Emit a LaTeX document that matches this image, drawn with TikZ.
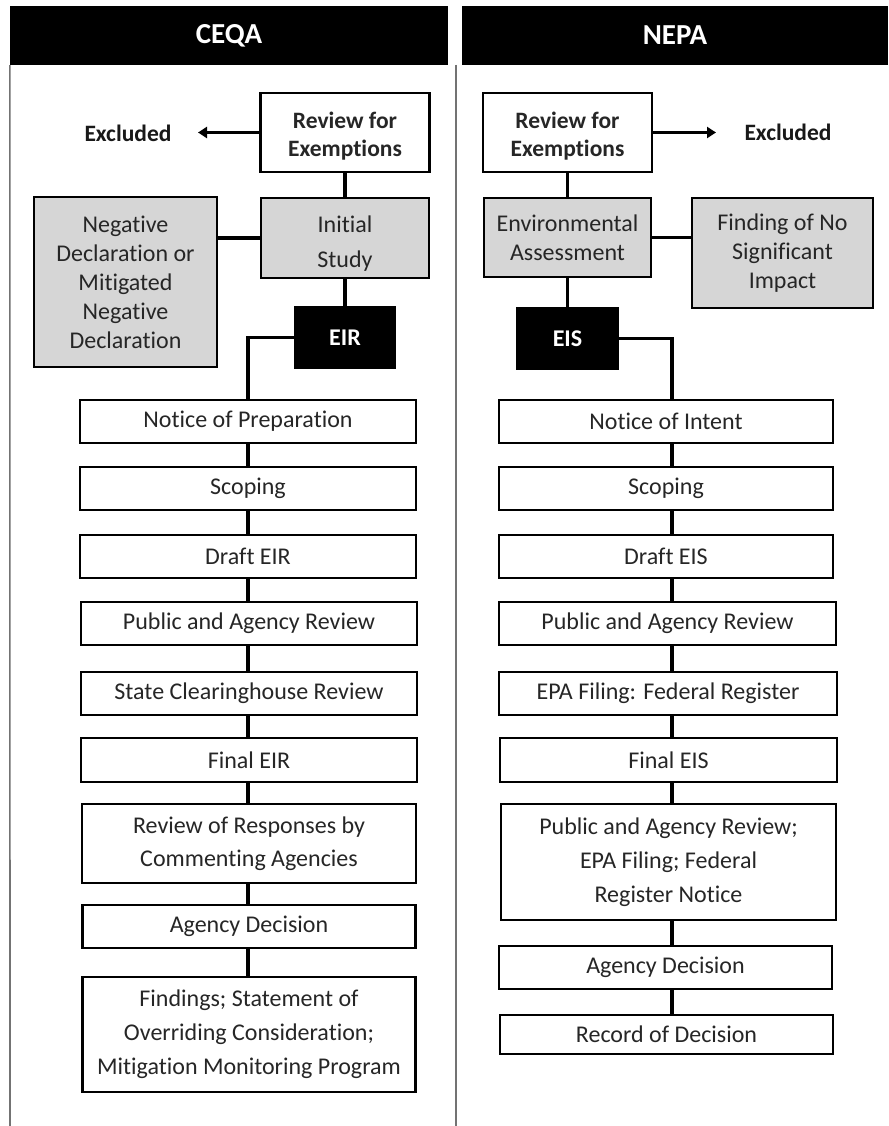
\documentclass[tikz,border=0pt]{standalone}
\usepackage{fontspec}
\setmainfont{Carlito}[Ligatures=NoCommon]
\usetikzlibrary{arrows.meta}
\begin{document}
\begin{tikzpicture}[x=1pt,y=-1pt,
  box/.style={draw=black,line width=2.2pt,fill=white,inner sep=0pt,align=center,
              font=\fontsize{24}{29}\selectfont,text=black!85},
  gbox/.style={box,fill=black!16},
  bbox/.style={box,fill=black,text=white,font=\fontsize{24}{29}\selectfont\bfseries},
  conn/.style={line width=3.6pt},
  arr/.style={line width=3pt,-{Triangle[length=9pt,width=11pt]}},
  lbl/.style={font=\fontsize{23.5}{28}\selectfont\bfseries,align=center,text=black!90,inner sep=0pt},
  hdr/.style={fill=black,text=white,font=\fontsize{29}{34}\selectfont\bfseries,inner sep=0pt},
  rule/.style={draw=black!55,line width=1.6pt}]
\fill[white] (0,0) rectangle (888,1126);
\useasboundingbox (0,0) rectangle (888,1126);

% headers
\node[hdr,minimum width=438pt,minimum height=59pt] (hc) at (229,35.5) {CEQA};
\node[hdr,minimum width=426pt,minimum height=59pt] (hn) at (675,35.5) {NEPA};
\coordinate (lb) at (10,1126);
\coordinate (dt) at (456,65);
\coordinate (db) at (456,1126);
\draw[rule] (hc.south west) -- (lb);
\draw[rule] (dt) -- (db);

% ---------------- CEQA ----------------
\node[box,minimum width=169pt,minimum height=79pt,font=\fontsize{23.5}{28}\selectfont\bfseries] (rev1) at (345,132.5) {\rule{0pt}{23pt}Review for\\Exemptions};
\node[lbl] (ex1) at (128,133) {Excluded};
\coordinate (ex1a) at (198,132.5);
\node[gbox,minimum width=168pt,minimum height=80pt,font=\fontsize{24}{35}\selectfont] (init) at (345,238) {\rule{0pt}{27pt}Initial\\Study};
\node[gbox,minimum width=183pt,minimum height=170pt] (neg) at (125.5,282) {Negative\\Declaration or\\Mitigated\\Negative\\Declaration};
\node[bbox,minimum width=100pt,minimum height=61pt] (eir) at (345,337.5) {EIR};

\node[box,minimum width=336pt,minimum height=43pt] (c1) at (248,421.5) {Notice of Preparation};
\node[box,minimum width=336pt,minimum height=43pt] (c2) at (248,488.5) {Scoping};
\node[box,minimum width=336pt,minimum height=43pt] (c3) at (248,556.5) {Draft EIR};
\node[box,minimum width=336pt,minimum height=43pt] (c4) at (249,623.5) {Public and Agency Review};
\node[box,minimum width=336pt,minimum height=43pt] (c5) at (249,693.5) {State Clearinghouse Review};
\node[box,minimum width=336pt,minimum height=44pt] (c6) at (249,760) {Final EIR};
\node[box,minimum width=334pt,minimum height=79pt,font=\fontsize{24}{33}\selectfont] (c7) at (249,843.5) {Review of Responses by\\Commenting Agencies};
\node[box,minimum width=333pt,minimum height=43pt] (c8) at (249,926.5) {Agency Decision};
\node[box,minimum width=333pt,minimum height=115pt,font=\fontsize{24}{34}\selectfont] (c9) at (249,1034.5) {Findings; Statement of\\Overriding Consideration;\\Mitigation Monitoring Program};

\draw[arr] (rev1.west) -- (ex1a);
\draw[conn] (rev1) -- (init);
\draw[conn] (neg.east |- init.west) -- (init.west);
\draw[conn] (init) -- (eir);
\draw[conn] (eir.west) -| (c1.north);
\draw[conn] (c1.south) -- (c2.north -| c1.south);
\draw[conn] (c2.south) -- (c3.north -| c2.south);
\draw[conn] (c3.south) -- (c4.north -| c3.south);
\draw[conn] (c4.south -| c3.south) -- (c5.north -| c3.south);
\draw[conn] (c5.south -| c3.south) -- (c6.north -| c3.south);
\draw[conn] (c6.south -| c3.south) -- (c7.north -| c3.south);
\draw[conn] (c7.south -| c3.south) -- (c8.north -| c3.south);
\draw[conn] (c8.south -| c3.south) -- (c9.north -| c3.south);

% ---------------- NEPA ----------------
\node[box,minimum width=169pt,minimum height=79pt,font=\fontsize{23.5}{28}\selectfont\bfseries] (rev2) at (567.5,132.5) {\rule{0pt}{23pt}Review for\\Exemptions};
\node[lbl] (ex2) at (788,132) {Excluded};
\coordinate (ex2a) at (716,132.5);
\node[gbox,minimum width=167pt,minimum height=79pt] (ea) at (567.5,237.5) {Environmental\\Assessment};
\node[gbox,minimum width=181pt,minimum height=110pt] (fonsi) at (782.5,253) {Finding of No\\Significant\\Impact};
\node[bbox,minimum width=100pt,minimum height=61pt] (eis) at (567.5,338.5) {EIS};

\node[box,minimum width=334pt,minimum height=43pt] (n1) at (666,421.5) {Notice of Intent};
\node[box,minimum width=334pt,minimum height=43pt] (n2) at (666,488.5) {Scoping};
\node[box,minimum width=334pt,minimum height=43pt] (n3) at (666,556.5) {Draft EIS};
\node[box,minimum width=337pt,minimum height=43pt] (n4) at (667.5,623.5) {Public and Agency Review};
\node[box,minimum width=338pt,minimum height=43pt] (n5) at (668,693.5) {EPA Filing: Federal Register};
\node[box,minimum width=337pt,minimum height=44pt] (n6) at (668.5,760) {Final EIS};
\node[box,minimum width=335pt,minimum height=116pt,font=\fontsize{24}{34}\selectfont] (n7) at (668.5,862) {Public and Agency Review;\\EPA Filing; Federal\\Register Notice};
\node[box,minimum width=333pt,minimum height=43pt] (n8) at (665.5,967.5) {Agency Decision};
\node[box,minimum width=333pt,minimum height=39pt] (n9) at (666.5,1034.5) {Record of Decision};

\draw[arr] (rev2.east) -- (ex2a);
\draw[conn] (rev2) -- (ea);
\draw[conn] (ea.east) -- (fonsi.west |- ea.east);
\draw[conn] (ea) -- (eis);
\coordinate (nx) at (672,0);
\draw[conn] (eis.east) -| (n1.north -| nx);
\draw[conn] (n1.south -| nx) -- (n2.north -| nx);
\draw[conn] (n2.south -| nx) -- (n3.north -| nx);
\draw[conn] (n3.south -| nx) -- (n4.north -| nx);
\draw[conn] (n4.south -| nx) -- (n5.north -| nx);
\draw[conn] (n5.south -| nx) -- (n6.north -| nx);
\draw[conn] (n6.south -| nx) -- (n7.north -| nx);
\draw[conn] (n7.south -| nx) -- (n8.north -| nx);
\draw[conn] (n8.south -| nx) -- (n9.north -| nx);
\end{tikzpicture}
\end{document}
